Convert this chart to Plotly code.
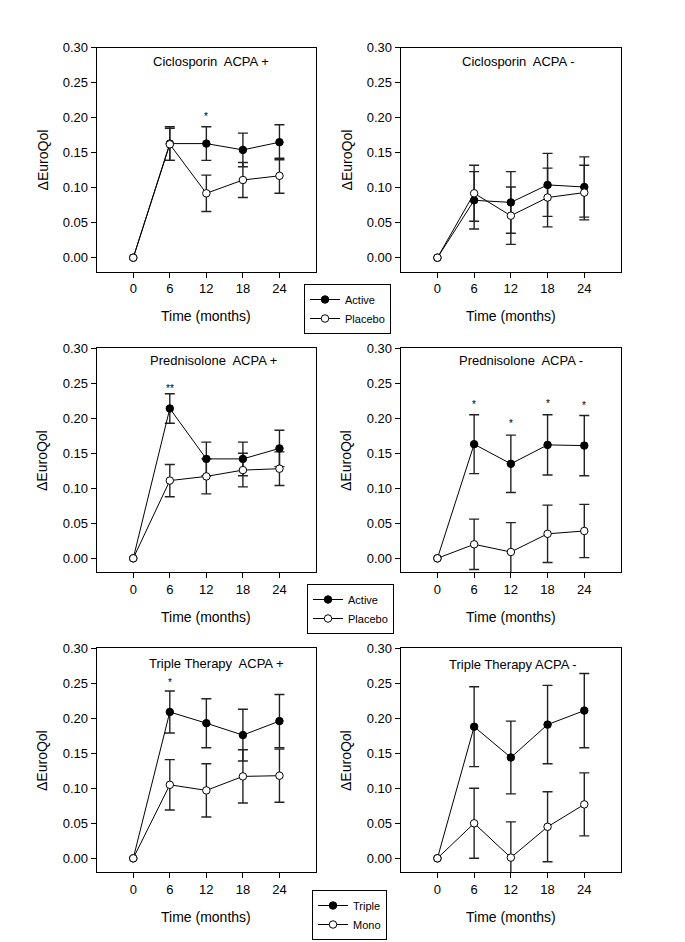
import plotly.graph_objects as go

W, H = 685, 942
FONT = "Liberation Sans, Arial, sans-serif"

months = [0, 6, 12, 18, 24]

# Ciclosporin ACPA +
cic_pos_active = [0, 0.163, 0.163, 0.154, 0.165]
cic_pos_active_err = [0, 0.024, 0.024, 0.024, 0.025]
cic_pos_placebo = [0, 0.162, 0.092, 0.111, 0.117]
cic_pos_placebo_err = [0, 0.023, 0.026, 0.025, 0.025]
# Ciclosporin ACPA -
cic_neg_active = [0, 0.082, 0.079, 0.104, 0.101]
cic_neg_active_err = [0, 0.041, 0.044, 0.045, 0.043]
cic_neg_placebo = [0, 0.092, 0.060, 0.086, 0.093]
cic_neg_placebo_err = [0, 0.040, 0.041, 0.042, 0.039]
# Prednisolone ACPA +
pred_pos_active = [0, 0.214, 0.142, 0.142, 0.157]
pred_pos_active_err = [0, 0.021, 0.024, 0.024, 0.026]
pred_pos_placebo = [0, 0.111, 0.117, 0.126, 0.128]
pred_pos_placebo_err = [0, 0.023, 0.025, 0.024, 0.024]
# Prednisolone ACPA -
pred_neg_active = [0, 0.163, 0.135, 0.162, 0.161]
pred_neg_active_err = [0, 0.042, 0.041, 0.043, 0.043]
pred_neg_placebo = [0, 0.020, 0.009, 0.035, 0.039]
pred_neg_placebo_err = [0, 0.036, 0.042, 0.041, 0.038]
# Triple Therapy ACPA +
tri_pos_triple = [0, 0.209, 0.193, 0.176, 0.196]
tri_pos_triple_err = [0, 0.030, 0.035, 0.037, 0.038]
tri_pos_mono = [0, 0.105, 0.097, 0.117, 0.118]
tri_pos_mono_err = [0, 0.036, 0.038, 0.038, 0.038]
# Triple Therapy ACPA -
tri_neg_triple = [0, 0.188, 0.144, 0.191, 0.211]
tri_neg_triple_err = [0, 0.057, 0.052, 0.056, 0.053]
tri_neg_mono = [0, 0.050, 0.001, 0.045, 0.077]
tri_neg_mono_err = [0, 0.050, 0.051, 0.050, 0.045]

titles = ["Ciclosporin  ACPA +", "Ciclosporin  ACPA -",
          "Prednisolone  ACPA +", "Prednisolone  ACPA -",
          "Triple Therapy  ACPA +", "Triple Therapy ACPA -"]
title_x = [12.7, 13.2, 13.1, 13.6, 13.6, 12.3]
title_y = [0.281, 0.281, 0.282, 0.282, 0.278, 0.277]

# significance markers: (panel index, month, y, text)
sig_panel = [0, 2, 3, 3, 3, 3, 4]
sig_month = [12, 6, 6, 12, 18, 24, 6]
sig_y = [0.206, 0.247, 0.224, 0.197, 0.225, 0.223, 0.255]
sig_text = ["*", "**", "*", "*", "*", "*", "*"]

legend_names = [("Active", "Placebo"), ("Active", "Placebo"), ("Triple", "Mono")]

panels = [
    (cic_pos_active, cic_pos_active_err, cic_pos_placebo, cic_pos_placebo_err),
    (cic_neg_active, cic_neg_active_err, cic_neg_placebo, cic_neg_placebo_err),
    (pred_pos_active, pred_pos_active_err, pred_pos_placebo, pred_pos_placebo_err),
    (pred_neg_active, pred_neg_active_err, pred_neg_placebo, pred_neg_placebo_err),
    (tri_pos_triple, tri_pos_triple_err, tri_pos_mono, tri_pos_mono_err),
    (tri_neg_triple, tri_neg_triple_err, tri_neg_mono, tri_neg_mono_err),
]

# layout in pixels
col_px = [(96.7, 316.0), (400.7, 621.0)]
row_px = [(47.7, 271.7), (348.3, 572.3), (648.3, 872.3)]

fig = go.Figure()
layout = dict(
    width=W, height=H, margin=dict(l=0, r=0, t=0, b=0, autoexpand=False),
    paper_bgcolor="white", plot_bgcolor="white",
    font=dict(family=FONT, size=13, color="black"),
    showlegend=True,
)
annotations = []

for i, (a, ae, p, pe) in enumerate(panels):
    r, c = divmod(i, 2)
    n = i + 1
    xa = "x" if n == 1 else f"x{n}"
    ya = "y" if n == 1 else f"y{n}"
    xkey = "xaxis" if n == 1 else f"xaxis{n}"
    ykey = "yaxis" if n == 1 else f"yaxis{n}"
    x0, x1 = col_px[c]
    y0, y1 = row_px[r]
    layout[xkey] = dict(
        domain=[x0 / W, x1 / W], anchor=ya, range=[-6, 30],
        tickvals=months, ticktext=[str(m) for m in months],
        ticks="outside", ticklen=5, tickwidth=1, tickcolor="black",
        showline=True, linecolor="black", linewidth=1, mirror=True,
        showgrid=False, zeroline=False, tickfont=dict(size=13, family=FONT),
    )
    layout[ykey] = dict(
        domain=[1 - y1 / H, 1 - y0 / H], anchor=xa, range=[-0.02, 0.30],
        tickvals=[0, 0.05, 0.10, 0.15, 0.20, 0.25, 0.30], tickformat=".2f",
        ticks="outside", ticklen=5, tickwidth=1, tickcolor="black",
        showline=True, linecolor="black", linewidth=1, mirror=True,
        showgrid=False, zeroline=False, tickfont=dict(size=13, family=FONT),
    )
    # error bars (drawn beneath markers), for follow-up months only
    for vals, errs in ((a, ae), (p, pe)):
        fig.add_trace(go.Scatter(
            x=months[1:], y=vals[1:], mode="markers",
            marker=dict(size=1, opacity=0),
            error_y=dict(type="data", array=errs[1:], visible=True,
                         color="#222", thickness=1.4, width=5),
            xaxis=xa, yaxis=ya, showlegend=False, hoverinfo="skip",
        ))
    leg_idx = r
    leg = "legend" if leg_idx == 0 else f"legend{leg_idx + 1}"
    names = legend_names[r]
    fig.add_trace(go.Scatter(
        x=months, y=a, mode="lines+markers", name=names[0],
        line=dict(color="black", width=1),
        marker=dict(size=7.5, color="black", line=dict(color="black", width=1)),
        xaxis=xa, yaxis=ya, showlegend=(c == 0), legend=leg,
    ))
    fig.add_trace(go.Scatter(
        x=months, y=p, mode="lines+markers", name=names[1],
        line=dict(color="black", width=1),
        marker=dict(size=7.5, color="white", line=dict(color="black", width=1)),
        xaxis=xa, yaxis=ya, showlegend=(c == 0), legend=leg,
    ))
    annotations.append(dict(
        x=title_x[i], y=title_y[i], xref=xa, yref=ya, text=titles[i],
        showarrow=False, font=dict(size=13, family=FONT, color="black"),
        xanchor="center", yanchor="middle",
    ))
    # axis titles
    annotations.append(dict(
        x=(x0 + x1) / 2 / W, y=1 - ((y1 + 44.5) / H), xref="paper", yref="paper",
        text="Time (months)", showarrow=False,
        font=dict(size=14, family=FONT, color="black"),
        xanchor="center", yanchor="middle",
    ))
    annotations.append(dict(
        x=(x0 - 54) / W, y=1 - ((y0 + y1) / 2 / H), xref="paper", yref="paper",
        text="\u0394EuroQol", showarrow=False, textangle=-90,
        font=dict(size=14, family=FONT, color="black"),
        xanchor="center", yanchor="middle",
    ))

for pi, m, yv, t in zip(sig_panel, sig_month, sig_y, sig_text):
    n = pi + 1
    xa = "x" if n == 1 else f"x{n}"
    ya = "y" if n == 1 else f"y{n}"
    annotations.append(dict(
        x=m, y=yv, xref=xa, yref=ya, text=t, showarrow=False, yshift=-3,
        font=dict(size=10, family=FONT, color="black"),
        xanchor="center", yanchor="middle",
    ))

legend_pos = [(304, 284), (307, 584), (312, 890)]
for k, (lx, ly) in enumerate(legend_pos):
    key = "legend" if k == 0 else f"legend{k + 1}"
    layout[key] = dict(
        x=lx / W, y=1 - ly / H, xref="paper", yref="paper",
        xanchor="left", yanchor="top",
        bordercolor="black", borderwidth=1, bgcolor="white",
        font=dict(size=11, family=FONT, color="black"),
        tracegroupgap=0, itemwidth=30,
    )

layout["annotations"] = annotations
fig.update_layout(**layout)
fig.write_html(
    "out.html",
    config={"displayModeBar": False},
    post_script="document.body.style.margin='0px';document.body.style.padding='0px';"
                "document.body.style.overflow='hidden';",
)
